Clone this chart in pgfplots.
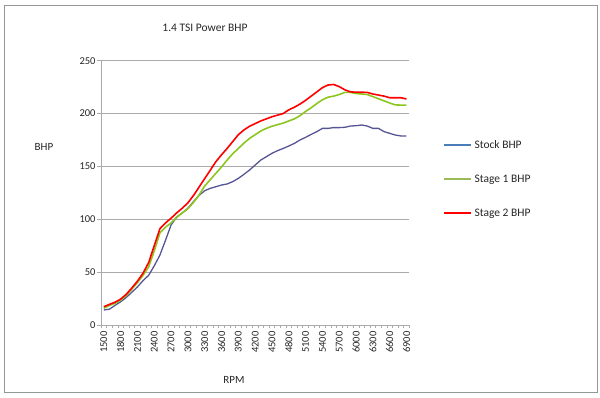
\documentclass[border=0pt]{standalone}
\usepackage{pgfplots}
\pgfplotsset{compat=1.18}
\usepackage{fontspec}
\setmainfont{Carlito}
\definecolor{stockline}{RGB}{85,85,150}
\definecolor{stockleg}{RGB}{74,126,187}
\definecolor{s1line}{RGB}{140,198,30}
\definecolor{s1leg}{RGB}{155,187,89}
\definecolor{s2line}{RGB}{255,0,0}
\definecolor{gridc}{RGB}{170,170,170}
\definecolor{framec}{RGB}{150,150,150}
\begin{document}
\begin{tikzpicture}
\useasboundingbox (0pt,0pt) rectangle (600pt,397pt);
\draw[framec,line width=0.8pt] (4pt,5pt) rectangle (597pt,392pt);
\node[font=\fontsize{11.5}{13}\selectfont,text=black!85] at (205pt,369pt) {1.4 TSI Power BHP};
\node[font=\fontsize{11}{13}\selectfont,text=black!85] at (44pt,250pt) {BHP};
\node[font=\fontsize{11}{13}\selectfont,text=black!85] at (234pt,17pt) {RPM};
\begin{axis}[
  at={(101pt,72pt)}, anchor=south west,
  scale only axis, width=308.3pt, height=264.3pt,
  xmin=1450, xmax=6950, ymin=0, ymax=250,
  axis lines*=left,
  axis line style={gridc, line width=0.8pt},
  xtick={1500,1800,...,6900},
  minor xtick={1450,1550,...,6950},
  ytick={0,50,...,250},
  ymajorgrids, major grid style={gridc, line width=0.8pt},
  tick align=outside,
  major tick length=0pt,
  minor tick length=3pt,
  minor tick style={gridc, line width=0.6pt},
  ytick style={gridc},
  extra y ticks={0,50,...,250}, extra y tick labels={},
  extra y tick style={major tick length=4pt, grid=none, tick style={gridc, line width=0.8pt}},
  xticklabel shift=3pt,
  yticklabel shift=2pt,
  xticklabel style={rotate=90, anchor=east, font=\fontsize{10.5}{12}\selectfont, text=black!85},
  yticklabel style={font=\fontsize{10.5}{12}\selectfont, text=black!85},
  /pgf/number format/assume math mode=true,
  /pgf/number format/1000 sep={},
  legend style={at={(1.1,0.715)}, anchor=north west, draw=none, fill=none,
    font=\fontsize{11.5}{13}\selectfont, row sep=21pt, text=black!85},
  legend cell align=left,
  legend image code/.code={\draw[#1, line width=2.2pt] (0pt,0pt) -- (27pt,0pt);},
]
\addplot[stockline, line width=1.3pt, forget plot] coordinates {
(1500,14.2)(1600,15)(1700,18.5)(1800,22)(1900,26)(2000,31)(2100,36)(2200,42)(2300,47)(2400,56)
(2500,66)(2600,80)(2700,94.6)(2800,102)(2900,106)(3000,110.4)(3100,116.7)(3200,122.6)(3300,127)(3400,129.3)
(3500,130.8)(3600,132.4)(3700,133.4)(3800,135.6)(3900,138.7)(4000,142.5)(4100,146.6)(4200,151.3)(4300,156)(4400,159.2)
(4500,162.4)(4600,164.9)(4700,167)(4800,169.3)(4900,171.8)(5000,175)(5100,177.5)(5200,180.3)(5300,182.9)(5400,186)
(5500,186)(5600,186.7)(5700,186.7)(5800,187)(5900,188.2)(6000,188.5)(6100,189.2)(6200,188.2)(6300,186)(6400,186)
(6500,182.9)(6600,181.3)(6700,179.7)(6800,178.8)(6900,178.8)};
\addplot[s1line, line width=1.6pt, forget plot] coordinates {
(1500,15.8)(1600,18.5)(1700,20.5)(1800,23.5)(1900,28)(2000,34)(2100,40)(2200,47)(2300,55)(2400,70)
(2500,87)(2600,92.5)(2700,96.5)(2800,102)(2900,106)(3000,110)(3100,116)(3200,123)(3300,131.5)(3400,137.5)
(3500,143.5)(3600,149.5)(3700,156)(3800,162)(3900,167)(4000,172)(4100,176.5)(4200,180)(4300,183.5)(4400,186)
(4500,188)(4600,189.5)(4700,191)(4800,193)(4900,195)(5000,198)(5100,202)(5200,205.5)(5300,209.5)(5400,213)
(5500,215.5)(5600,216.5)(5700,218)(5800,220)(5900,220)(6000,219)(6100,218.5)(6200,218)(6300,216)(6400,214)
(6500,212)(6600,210)(6700,208.2)(6800,208)(6900,208)};
\addplot[s2line, line width=1.6pt, forget plot] coordinates {
(1500,17.3)(1600,19.5)(1700,21.5)(1800,24.5)(1900,29)(2000,35)(2100,41.5)(2200,49)(2300,59)(2400,75)
(2500,91)(2600,96.5)(2700,101)(2800,106)(2900,110.5)(3000,115.5)(3100,122.5)(3200,130.5)(3300,138.5)(3400,146.5)
(3500,154.5)(3600,161)(3700,167)(3800,173.5)(3900,180)(4000,184.5)(4100,188)(4200,190.5)(4300,193)(4400,195)
(4500,197)(4600,198.5)(4700,200)(4800,203.5)(4900,206)(5000,209)(5100,212.5)(5200,216.5)(5300,220.5)(5400,224.5)
(5500,227)(5600,227.5)(5700,225.5)(5800,222.5)(5900,220.5)(6000,220.2)(6100,220.2)(6200,220)(6300,218.5)(6400,217.5)
(6500,216.5)(6600,215)(6700,215)(6800,215)(6900,213.8)};
\addlegendimage{stockleg}
\addlegendentry{Stock BHP}
\addlegendimage{s1leg}
\addlegendentry{Stage 1 BHP}
\addlegendimage{s2line}
\addlegendentry{Stage 2 BHP}
\end{axis}
\end{tikzpicture}
\end{document}
